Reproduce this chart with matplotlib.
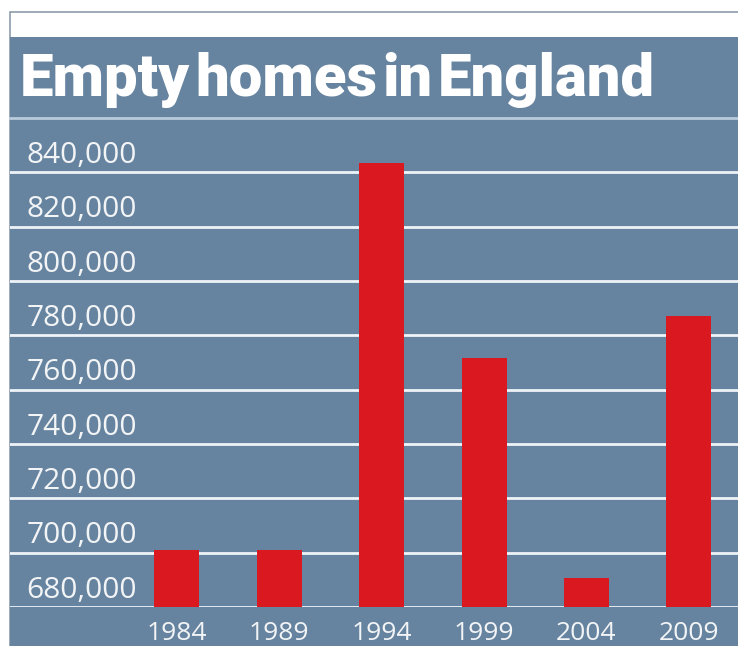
import matplotlib.pyplot as plt
from matplotlib.patches import Rectangle
from matplotlib.transforms import blended_transform_factory

years = ['1984', '1989', '1994', '1999', '2004', '2009']
empty_homes = [701000, 701000, 843500, 771500, 690500, 787000]
y_ticks = [680000, 700000, 720000, 740000, 760000, 780000, 800000, 820000, 840000]
title_words = ['Empty', 'homes', 'in', 'England']

panel_blue = '#6684a0'
bar_red = '#d9191f'
grid_white = '#eef3f7'

W, H = 738, 646
fig = plt.figure(figsize=(W / 100, H / 100), dpi=100, facecolor='white')

# white header strip with thin grey border, then the blue panel below it
fig.patches.append(Rectangle((10 / W, 0), 1, (H - 12) / H, transform=fig.transFigure,
                             facecolor='white', edgecolor='#8d9dab', linewidth=1.2, zorder=-2))
fig.patches.append(Rectangle((10 / W, 0), 1, (H - 37) / H, transform=fig.transFigure,
                             facecolor=panel_blue, edgecolor='none', zorder=-1))

# title set word by word so the gaps stay tight
renderer = fig.canvas.get_renderer()
x_px = 20
for word in title_words:
    t = fig.text(x_px / W, (H - 96) / H, word, family='Roboto', fontweight='heavy',
                 fontsize=43, color='white', va='baseline', ha='left')
    x_px += t.get_window_extent(renderer).width + 5

ax = fig.add_axes([10 / W, (H - 607) / H, (W - 10) / W, 489 / H])
ax.set_facecolor('none')
for s in ax.spines.values():
    s.set_visible(False)

x = range(len(years))
ax.bar(x, empty_homes, width=0.44, color=bar_red, zorder=3)
ax.set_xlim(-1.63, 5.48)
ax.set_ylim(680000, 860000)

for v in y_ticks:
    ax.axhline(v, color=grid_white, linewidth=2.0, zorder=1)
ax.axhline(860000, color='#b8cbdb', linewidth=2.0, zorder=1, clip_on=False)

trans = blended_transform_factory(ax.transAxes, ax.transData)
for v in y_ticks:
    ax.text(127 / (W - 10), v + 6200, f'{v:,}', transform=trans, ha='right', va='center',
            family='Open Sans', fontsize=21.5, color='#f2f4f6')

ax.set_yticks([])
ax.set_xticks(list(x))
ax.set_xticklabels(years, family='Open Sans', fontsize=19, color='#f2f4f6')
ax.tick_params(axis='x', length=0, pad=10)

fig.savefig('out.png', dpi=100, facecolor='white')
